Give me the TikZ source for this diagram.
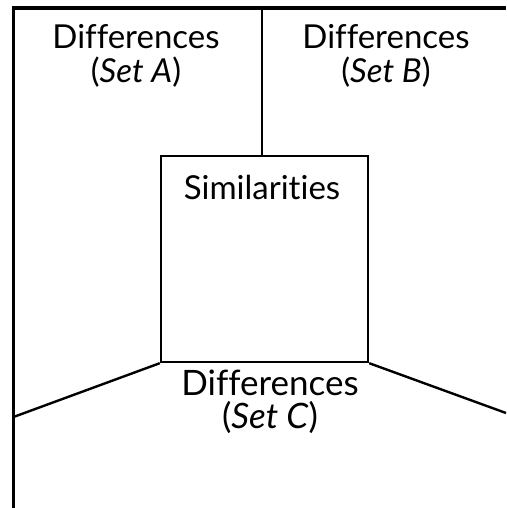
\documentclass[tikz,border=0pt]{standalone}
\usepackage{fontspec}
\setmainfont[Ligatures=CommonOff]{Lato}
\begin{document}
\begin{tikzpicture}[x=1pt,y=1pt,
  frame/.style={line width=3.2pt},
  divider/.style={line width=2.4pt},
  labeltext/.style={inner sep=0pt,anchor=base,align=center,font=\fontsize{33}{34}\selectfont},
  bigtext/.style={inner sep=0pt,anchor=base,align=center,font=\fontsize{35}{32.5}\selectfont}]
  \useasboundingbox (0,0) rectangle (506,508);
  % outer frame (left and top edges)
  \coordinate (fl) at (13.5,0);
  \coordinate (ftl) at (13.5,500);
  \coordinate (ftr) at (506,500);
  \draw[frame] (fl) -- (ftl) -- (ftr);
  % central square
  \node[draw,divider,minimum width=207pt,minimum height=206pt,inner sep=0pt] (sq) at (264.5,249) {};
  \node[labeltext] (simtext) at (262,308) {Similarities};
  % dividers
  \coordinate (topmid) at (262,500);
  \coordinate (leftend) at (13.5,91);
  \coordinate (rightend) at (506,95);
  \draw[divider] (sq.north -| topmid) -- (topmid);
  \draw[divider] (sq.south west) -- (leftend);
  \draw[divider] (sq.south east) -- (rightend);
  % region labels (anchored at the baseline of their last line)
  \node[labeltext] (seta) at (136,425) {Differences\\(\textit{Set A})};
  \node[labeltext] (setb) at (386,425) {Differences\\(\textit{Set B})};
  \node[bigtext] (setc) at (270,79.5) {Differences\\(\textit{Set C})};
\end{tikzpicture}
\end{document}
